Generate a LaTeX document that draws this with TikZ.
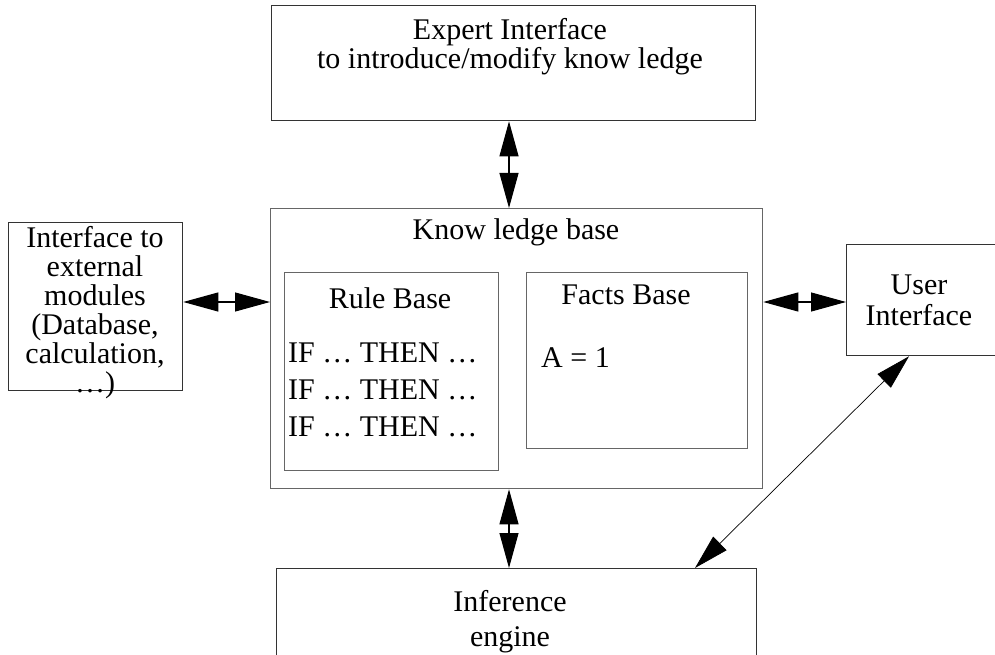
\documentclass[tikz,border=0pt]{standalone}
\usepackage{fontspec}
\setmainfont{Liberation Serif}
\usetikzlibrary{arrows.meta}
\begin{document}
\begin{tikzpicture}[x=1pt,y=-1pt,
  box/.style={draw=black!60, line width=1.3pt, rectangle, inner sep=0pt, anchor=north west},
  darkbox/.style={box, draw=black!80},
  txt/.style={inner sep=0pt, font=\fontsize{30}{29}\selectfont, align=center},
  biarrow/.style={line width=1.1pt, {Triangle[length=35pt,width=19pt]}-{Triangle[length=35pt,width=19pt]}},
  thinarrow/.style={line width=0.7pt, {Triangle[length=35pt,width=19pt]}-{Triangle[length=35pt,width=19pt]}}
]
\clip (0,0) rectangle (995,655);
\fill[white] (0,0) rectangle (995,655);
% boxes
\node[darkbox, minimum width=484pt, minimum height=115pt] (expert) at (271,5) {};
\node[box, minimum width=492pt, minimum height=280pt] (kb) at (270,208) {};
\node[box, minimum width=214pt, minimum height=198pt] (rule) at (284,272) {};
\node[box, minimum width=221pt, minimum height=176pt] (facts) at (526,272) {};
\node[darkbox, minimum width=174pt, minimum height=168pt] (ext) at (8,222) {};
\node[darkbox, minimum width=160pt, minimum height=111pt] (user) at (846,244) {};
\node[darkbox, minimum width=480pt, minimum height=120pt] (inf) at (276,568) {};
% texts
\node[txt] (expertT) at (510,47) {Expert Interface\\to introduce/modify know ledge};
\node[txt] (kbT) at (516,232) {Know ledge base};
\node[txt] (ruleT) at (390,298) {Rule Base};
\node[txt, anchor=west, align=left, font=\fontsize{30}{37}\selectfont] (ifT) at (288,390) {IF \dots{} THEN \dots\\IF \dots{} THEN \dots\\IF \dots{} THEN \dots};
\node[txt] (factsT) at (626,295) {Facts Base};
\node[txt, anchor=west] (aT) at (541,358) {A = 1};
\node[txt] (extT) at (95,313) {Interface to\\external\\modules\\(Database,\\calculation,\\\dots)};
\node[txt, font=\fontsize{30}{31}\selectfont] (userT) at (919,300) {User\\Interface};
\node[txt, font=\fontsize{30}{35}\selectfont] (infT) at (510,622) {Inference\\engine};
% connectors
\coordinate (vx) at (509,0);
\coordinate (hy) at (0,302);
\coordinate (dA) at (695,0);
\coordinate (dB) at (909,0);
\draw[biarrow] (vx |- expert.south) -- (vx |- kb.north);
\draw[biarrow] (vx |- kb.south) -- (vx |- inf.north);
\draw[biarrow] (hy -| ext.east) -- (hy -| kb.west);
\draw[biarrow] (hy -| kb.east) -- (hy -| user.west);
\draw[thinarrow] (dA |- inf.north) -- (dB |- user.south);
\end{tikzpicture}
\end{document}
